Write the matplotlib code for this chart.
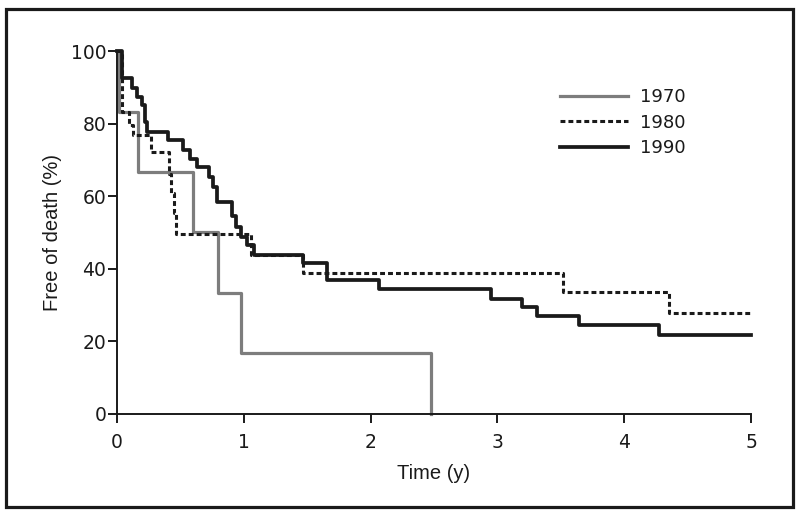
import matplotlib
matplotlib.use("Agg")
import matplotlib.pyplot as plt
from matplotlib.patches import Rectangle

plt.rcParams['font.family'] = ['Liberation Sans', 'DejaVu Sans']

# Kaplan-Meier steps (time in years, % free of death)
t_1970 = [0, 0.02, 0.17, 0.60, 0.80, 0.98, 2.48]
s_1970 = [100, 83.3, 66.7, 50.0, 33.3, 16.7, 0]

t_1980 = [0, 0.04, 0.10, 0.13, 0.27, 0.41, 0.43, 0.45, 0.47, 1.06, 1.47, 3.52, 4.35, 5.0]
s_1980 = [100, 83.3, 79.6, 76.9, 72.2, 66.0, 61.0, 55.5, 49.5, 43.8, 38.8, 33.6, 27.8, 27.8]

t_1990 = [0, 0.04, 0.12, 0.16, 0.20, 0.22, 0.24, 0.40, 0.52, 0.58, 0.63, 0.73, 0.76, 0.79,
          0.91, 0.94, 0.98, 1.03, 1.08, 1.47, 1.66, 2.07, 2.95, 3.19, 3.31, 3.64, 4.27, 5.0]
s_1990 = [100, 92.6, 89.8, 87.3, 85.0, 80.5, 77.7, 75.5, 72.7, 70.3, 68.0, 65.3, 62.5, 58.5,
          54.5, 51.5, 48.8, 46.5, 43.8, 41.6, 37.0, 34.3, 31.7, 29.4, 27.0, 24.5, 21.8, 21.8]

num_font = {'family': 'DejaVu Sans', 'size': 13.5}
leg_font = {'family': 'DejaVu Sans', 'size': 13}

fig = plt.figure(figsize=(8, 5.16), dpi=100)
ax = fig.add_axes([0.146, 0.198, 0.793, 0.703])

ax.step(t_1970, s_1970, where='post', color='#7d7d7d', lw=2.3, label='1970', clip_on=False)
ax.step(t_1980, s_1980, where='post', color='#1a1a1a', lw=2.2, ls=(0, (1.6, 1.0)),
        label='1980', clip_on=False)
ax.step(t_1990, s_1990, where='post', color='#1a1a1a', lw=2.7, label='1990', clip_on=False)

ax.set_xlim(0, 5)
ax.set_ylim(0, 100)
ax.set_xticks(range(0, 6))
ax.set_yticks(range(0, 101, 20))
for side in ['top', 'right']:
    ax.spines[side].set_visible(False)
for side in ['left', 'bottom']:
    ax.spines[side].set_linewidth(1.4)
    ax.spines[side].set_color('#1a1a1a')
ax.tick_params(direction='out', length=6.5, width=1.4, color='#1a1a1a')
ax.tick_params(axis='x', pad=7)
ax.tick_params(axis='y', pad=1)
for lab in ax.get_xticklabels() + ax.get_yticklabels():
    lab.set_fontproperties(num_font)
    lab.set_color('#1a1a1a')

ax.set_xlabel('Time (y)', fontsize=14.5, labelpad=9, color='#1a1a1a')
ax.set_ylabel('Free of death (%)', fontsize=14.5, labelpad=6.5, color='#1a1a1a')

leg = ax.legend(loc='upper left', bbox_to_anchor=(0.689, 0.847), bbox_transform=fig.transFigure,
                frameon=False, prop=leg_font, handlelength=3.75, handletextpad=0.65,
                labelspacing=0.42, borderpad=0)
for txt in leg.get_texts():
    txt.set_color('#1a1a1a')

# outer frame round the whole figure
fig.patches.append(Rectangle((0.008, 0.017), 0.983, 0.966, transform=fig.transFigure,
                             fill=False, lw=2.3, ec='#1a1a1a'))

fig.savefig('out.png', dpi=100)
